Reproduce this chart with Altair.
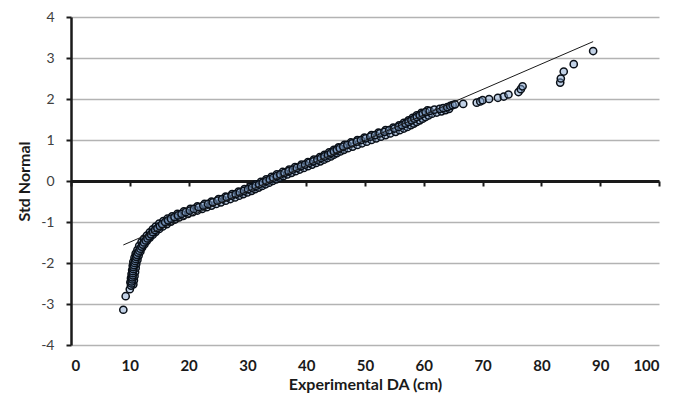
import altair as alt
import pandas as pd

# Observed points (Experimental DA in cm vs standard normal quantile)
da_cm = [8.9, 9.3, 10.0, 10.2, 10.3, 10.3, 10.4, 10.4, 10.5, 10.5, 10.5, 10.6, 10.6, 10.7,
         10.8, 10.9, 11.0, 11.1, 11.2, 11.4, 11.6, 11.8, 12.0, 12.2, 12.4, 12.7, 13.0, 13.3,
         13.6, 13.9, 14.3, 14.7, 15.1, 15.5, 16.0, 16.5, 17.0, 17.6, 18.2, 18.8, 19.5, 20.2,
         20.9, 21.7, 22.5, 23.3, 24.1, 24.9, 25.7, 26.5, 27.3, 28.0, 28.7, 29.4, 30.1, 30.8,
         31.4, 32.0, 32.6, 33.2, 33.8, 34.4, 35.0, 35.6, 36.3, 37.0, 37.7, 38.4, 39.1, 39.8,
         40.5, 41.2, 41.9, 42.5, 43.1, 43.7, 44.2, 44.7, 45.2, 45.7, 46.3, 47.0, 47.8, 48.6,
         49.3, 50.1, 50.9, 51.7, 52.5, 53.3, 54.1, 55.0, 55.7, 56.3, 56.9, 57.4, 57.9, 58.4,
         58.8, 59.3, 59.8, 60.3, 61.0, 61.8, 62.7, 63.3, 64.0, 64.5, 64.9, 65.3, 66.7, 69.0,
         69.6, 70.0, 71.1, 72.6, 73.6, 74.4, 76.1, 76.5, 76.8, 83.2, 83.3, 83.8, 85.5, 88.8]
std_normal = [-3.14, -2.81, -2.64, -2.55, -2.50, -2.45, -2.40, -2.35, -2.30, -2.25, -2.20, -2.15,
              -2.10, -2.05, -2.00, -1.95, -1.90, -1.85, -1.80, -1.75, -1.70, -1.65, -1.60, -1.55,
              -1.50, -1.45, -1.40, -1.35, -1.30, -1.25, -1.20, -1.15, -1.10, -1.05, -1.00, -0.96,
              -0.92, -0.88, -0.84, -0.80, -0.76, -0.72, -0.68, -0.64, -0.60, -0.56, -0.52, -0.48,
              -0.44, -0.40, -0.36, -0.32, -0.28, -0.24, -0.20, -0.16, -0.12, -0.08, -0.04, 0.00,
              0.04, 0.08, 0.12, 0.16, 0.20, 0.24, 0.28, 0.32, 0.36, 0.40, 0.44, 0.48, 0.52, 0.56,
              0.60, 0.64, 0.68, 0.72, 0.76, 0.80, 0.84, 0.88, 0.92, 0.96, 1.00, 1.04, 1.08, 1.12,
              1.16, 1.20, 1.24, 1.28, 1.32, 1.36, 1.40, 1.44, 1.48, 1.52, 1.56, 1.60, 1.64, 1.68,
              1.71, 1.74, 1.76, 1.78, 1.80, 1.83, 1.85, 1.87, 1.88, 1.91, 1.94, 1.97, 2.00, 2.03,
              2.06, 2.11, 2.17, 2.24, 2.31, 2.40, 2.50, 2.67, 2.85, 3.17]

# Further observations in the dense band (lower/right edge of the band)
da_cm_band = [10.6, 10.7, 10.8, 10.9, 11.0, 11.1, 11.3, 11.5, 11.8, 12.1, 12.5, 12.9, 13.4, 13.9,
              14.4, 15.0, 15.6, 16.3, 17.0, 17.7, 18.4, 19.1, 19.9, 20.7, 21.5, 22.3, 23.1, 23.9,
              24.7, 25.5, 26.3, 27.1, 27.9, 28.6, 29.3, 30.0, 30.7, 31.3, 31.9, 32.5, 33.1, 33.7,
              34.3, 34.9, 35.5, 36.1, 36.8, 37.5, 38.2, 38.9, 39.6, 40.3, 41.0, 41.7, 42.4, 43.0,
              43.6, 44.2, 44.7, 45.2, 45.8, 46.4, 47.1, 47.9, 48.7, 49.5, 50.3, 51.1, 51.9, 52.7,
              53.5, 54.3, 55.2, 55.9, 56.6, 57.2, 57.8, 58.3, 58.8, 59.3, 59.8, 60.3, 60.8, 61.4,
              62.2, 63.0, 63.7, 64.3]
std_normal_band = [-2.52, -2.42, -2.32, -2.22, -2.12, -2.02, -1.92, -1.82, -1.72, -1.62, -1.54,
                   -1.46, -1.38, -1.31, -1.24, -1.17, -1.11, -1.05, -0.99, -0.94, -0.89, -0.85,
                   -0.80, -0.76, -0.72, -0.68, -0.64, -0.60, -0.56, -0.52, -0.48, -0.44, -0.40,
                   -0.36, -0.32, -0.28, -0.24, -0.20, -0.16, -0.12, -0.08, -0.04, 0.00, 0.04, 0.08,
                   0.12, 0.16, 0.20, 0.24, 0.28, 0.32, 0.36, 0.40, 0.44, 0.48, 0.52, 0.56, 0.60,
                   0.64, 0.68, 0.72, 0.76, 0.80, 0.84, 0.88, 0.92, 0.96, 1.00, 1.04, 1.08, 1.12,
                   1.16, 1.20, 1.24, 1.28, 1.32, 1.36, 1.40, 1.44, 1.48, 1.52, 1.56, 1.60, 1.64,
                   1.67, 1.70, 1.73, 1.76]

# Observations on the upper/left edge of the dense band
da_cm_upper = [10.1, 10.2, 10.3, 10.4, 10.5, 10.6, 10.8, 11.0, 11.3, 11.6, 12.0, 12.4, 12.9, 13.4,
               13.9, 14.4, 15.0, 15.7, 16.4, 17.2, 18.1, 19.2, 20.3, 21.5, 22.7, 23.9, 25.1, 26.3,
               27.4, 28.5, 29.5, 30.5, 31.4, 32.3, 33.2, 34.1, 35.0, 36.0, 37.1, 38.1, 39.2, 40.3,
               41.3, 42.3, 43.1, 43.9, 44.7, 45.5, 46.5, 47.6, 48.7, 49.9, 51.1, 52.3, 53.5, 54.8,
               55.8, 56.6, 57.4, 58.1, 58.8, 59.6, 60.6]
std_normal_upper = [-2.47, -2.37, -2.27, -2.17, -2.07, -1.97, -1.87, -1.77, -1.68, -1.58, -1.49,
                    -1.41, -1.33, -1.25, -1.18, -1.11, -1.04, -0.98, -0.92, -0.86, -0.80, -0.74,
                    -0.68, -0.62, -0.56, -0.50, -0.44, -0.38, -0.32, -0.26, -0.20, -0.14, -0.08,
                    -0.02, 0.04, 0.10, 0.16, 0.22, 0.28, 0.34, 0.40, 0.46, 0.52, 0.58, 0.64, 0.70,
                    0.76, 0.82, 0.88, 0.94, 1.00, 1.06, 1.12, 1.18, 1.24, 1.30, 1.36, 1.42, 1.48,
                    1.54, 1.60, 1.66, 1.72]

# Fitted normal reference line end points
line_x = [8.9, 88.8]
line_y = [-1.56, 3.40]

x_ticks = [0, 10, 20, 30, 40, 50, 60, 70, 80, 90, 100]
y_ticks = [-4, -3, -2, -1, 0, 1, 2, 3, 4]

pts = pd.DataFrame({
    "x": da_cm_band + da_cm_upper + da_cm,
    "y": std_normal_band + std_normal_upper + std_normal,
})
ln = pd.DataFrame({"x": line_x, "y": line_y})

FONT = "Lato"
W, H = 588, 328

x_scale = alt.Scale(domain=[0, 100], nice=False, zero=False)
y_scale = alt.Scale(domain=[-4, 4], nice=False)

x_axis = alt.Axis(
    title="Experimental DA (cm)", values=x_ticks, grid=False,
    offset=-H / 2, domainColor="#1a1a1a", domainWidth=3,
    tickColor="#1a1a1a", tickWidth=2, tickSize=5,
    labelFont=FONT, labelFontSize=15, labelFontWeight="bold", labelColor="#1a1a1a",
    labelPadding=172, labelExpr="'' + datum.value",
    titleFont=FONT, titleFontSize=16, titleFontWeight="bold", titleColor="#1a1a1a",
    titlePadding=3,
)
y_axis = alt.Axis(
    title="Std Normal", values=y_ticks, grid=True, gridColor="#b3b3b3", gridWidth=1.3,
    domainColor="#1a1a1a", domainWidth=2.5, tickColor="#1a1a1a", tickWidth=2, tickSize=5,
    labelFont=FONT, labelFontSize=14, labelColor="#404040", labelPadding=12,
    labelExpr="'' + datum.value",
    titleFont=FONT, titleFontSize=16, titleFontWeight="bold", titleColor="#1a1a1a",
    titlePadding=8,
)

points = alt.Chart(pts).mark_circle(
    size=52, fill="#86a6d0", fillOpacity=0.5, stroke="#0a1018", strokeWidth=1.5, opacity=1
).encode(
    x=alt.X("x:Q", scale=x_scale, axis=x_axis),
    y=alt.Y("y:Q", scale=y_scale, axis=y_axis),
)

fit = alt.Chart(ln).mark_line(color="#1a1a1a", strokeWidth=1).encode(
    x=alt.X("x:Q", scale=x_scale),
    y=alt.Y("y:Q", scale=y_scale),
)

chart = alt.layer(points, fit).properties(
    width=W, height=H,
    autosize=alt.AutoSizeParams(type="none"),
    padding={"left": 63, "top": 9, "right": 8, "bottom": 53},
).configure_view(stroke=None)

chart.save("out.html", embed_options={"renderer": "svg", "actions": False})
